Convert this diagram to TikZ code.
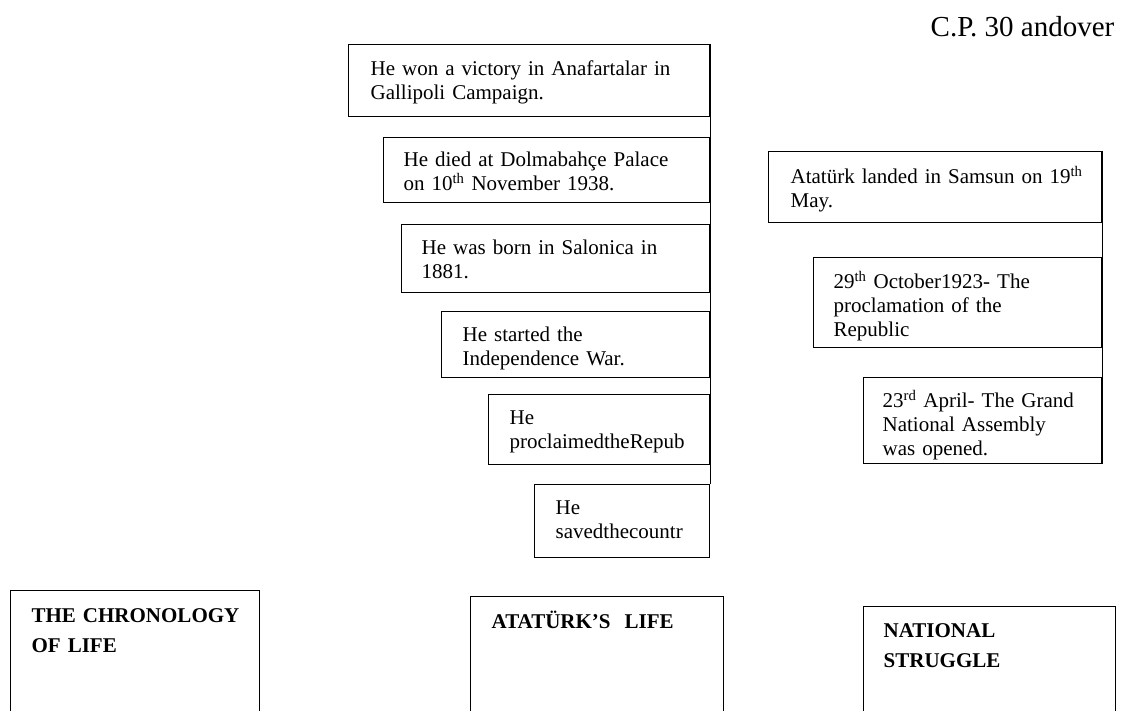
\documentclass[tikz,border=0pt]{standalone}
\usepackage{fontspec}
\setmainfont{Liberation Serif}
\begin{document}
\begin{tikzpicture}[x=1pt,y=-1pt,line width=1.3pt,
    frame/.style={draw,anchor=north west,inner sep=0pt},
    entry/.style={anchor=north west,inner sep=0pt,align=left,text width=330pt,
      text height=15pt,font=\fontsize{21}{24}\selectfont},
    heading/.style={entry,font=\bfseries\fontsize{21}{29.5}\selectfont}]
    \useasboundingbox (0,0) rectangle (1130,711);
    \node[anchor=base west,inner sep=0pt,font=\fontsize{29}{32}\selectfont] (cp) at (930,37) {C.P. 30 andover};
    % Ataturk's life
    \node[frame,minimum width=361pt,minimum height=72pt] (a1) at (348,44) {};
    \node[entry] (t1) at (370,60) {He won a victory in Anafartalar in\\Gallipoli Campaign.};
    \node[frame,minimum width=326pt,minimum height=65pt] (a2) at (383,137) {};
    \node[entry] (t2) at (403,151) {He died at Dolmabahçe Palace\\on 10\textsuperscript{th} November 1938.};
    \node[frame,minimum width=308pt,minimum height=68pt] (a3) at (401,224) {};
    \node[entry] (t3) at (421,239) {He was born in Salonica in\\1881.};
    \node[frame,minimum width=268pt,minimum height=66pt] (a4) at (441,311) {};
    \node[entry] (t4) at (462,326) {He started the\\Independence War.};
    \node[frame,minimum width=221pt,minimum height=70pt] (a5) at (488,394) {};
    \node[entry] (t5) at (509,409) {He\\proclaimedtheRepub};
    \node[frame,minimum width=175pt,minimum height=73pt] (a6) at (534,484) {};
    \node[entry] (t6) at (555,499) {He\\savedthecountr};
    \draw (a1.north east) -- (a6.north east);
    % national struggle
    \node[frame,minimum width=333pt,minimum height=71pt] (b1) at (768,151) {};
    \node[entry] (u1) at (790,168) {Atatürk landed in Samsun on 19\textsuperscript{th}\\May.};
    \node[frame,minimum width=288pt,minimum height=90pt] (b2) at (813,257) {};
    \node[entry] (u2) at (833,273) {29\textsuperscript{th} October1923- The\\proclamation of the\\Republic};
    \node[frame,minimum width=238pt,minimum height=86pt] (b3) at (863,377) {};
    \node[entry] (u3) at (882,392) {23\textsuperscript{rd} April- The Grand\\National Assembly\\was opened.};
    \draw (b1.north east) -- (b3.south east);
    % bottom row
    \node[frame,minimum width=249pt,minimum height=140pt] (c1) at (10,590) {};
    \node[heading] (h1) at (31,607) {THE CHRONOLOGY\\OF LIFE};
    \node[frame,minimum width=253pt,minimum height=140pt] (c2) at (470,596) {};
    \node[heading] (h2) at (491,613) {ATATÜRK’S~ LIFE};
    \node[frame,minimum width=252pt,minimum height=140pt] (c3) at (863,606) {};
    \node[heading] (h3) at (883,622) {NATIONAL\\STRUGGLE};
\end{tikzpicture}
\end{document}
